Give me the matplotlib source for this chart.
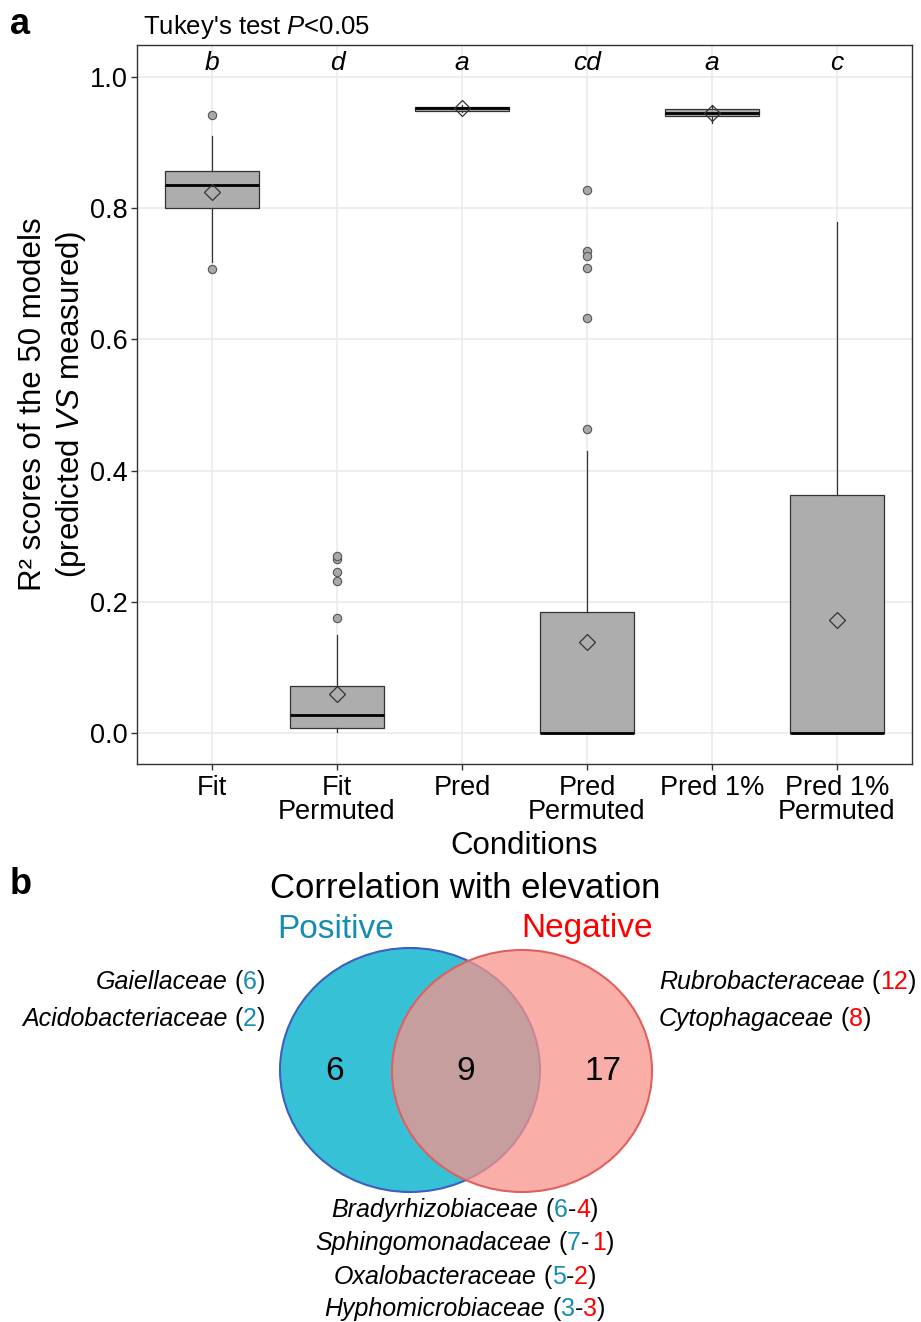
import matplotlib
matplotlib.use("Agg")
import matplotlib.pyplot as plt
from matplotlib.patches import Ellipse

plt.rcParams['font.family'] = ['Liberation Sans', 'DejaVu Sans']
plt.rcParams['mathtext.fontset'] = 'custom'
plt.rcParams['mathtext.rm'] = 'Liberation Sans'
plt.rcParams['mathtext.it'] = 'Liberation Sans:italic'

# ---- panel a data (R2 scores) ----
conditions = ['Fit', 'Fit\nPermuted', 'Pred', 'Pred\nPermuted', 'Pred 1%', 'Pred 1%\nPermuted']
q1 = [0.800, 0.007, 0.948, 0.0, 0.940, 0.0]
med = [0.835, 0.027, 0.952, 0.0, 0.945, 0.0]
q3 = [0.857, 0.072, 0.955, 0.184, 0.951, 0.363]
whis_lo = [0.718, 0.002, 0.946, 0.0, 0.930, 0.0]
whis_hi = [0.910, 0.149, 0.957, 0.430, 0.958, 0.779]
means = [0.825, 0.059, 0.952, 0.139, 0.945, 0.172]
outliers = [
    [0.942, 0.708],
    [0.175, 0.232, 0.246, 0.265, 0.270],
    [],
    [0.828, 0.735, 0.727, 0.709, 0.632, 0.463],
    [],
    [],
]
tukey_letters = ['b', 'd', 'a', 'cd', 'a', 'c']

# ---- panel b data (Venn) ----
venn_counts = [6, 9, 17]
pos_only_names = ['Gaiellaceae', 'Acidobacteriaceae']
pos_only_n = [6, 2]
neg_only_names = ['Rubrobacteraceae', 'Cytophagaceae']
neg_only_n = [12, 8]
shared_names = ['Bradyrhizobiaceae', 'Sphingomonadaceae', 'Oxalobacteraceae', 'Hyphomicrobiaceae']
shared_pos = [6, 7, 5, 3]
shared_neg = [4, 1, 2, 3]

BLUE_TXT = '#168CB2'
RED_TXT = '#FF0000'

W, H = 921, 1322
fig = plt.figure(figsize=(W / 100, H / 100), dpi=100)

# panel a axes, placed in pixel terms
left, right, top, bottom = 137, 912, 45, 764
ax = fig.add_axes([left / W, 1 - bottom / H, (right - left) / W, (bottom - top) / H])

stats = []
for i in range(len(conditions)):
    stats.append(dict(med=med[i], q1=q1[i], q3=q3[i], whislo=whis_lo[i], whishi=whis_hi[i],
                      mean=means[i], fliers=outliers[i], label=conditions[i]))
pos = list(range(1, len(conditions) + 1))
ax.bxp(stats, positions=pos, widths=0.75, patch_artist=True, showmeans=True, showcaps=False,
       boxprops=dict(facecolor='#ADADAD', edgecolor='#333333', linewidth=0.9),
       medianprops=dict(color='black', linewidth=2),
       whiskerprops=dict(color='#333333', linewidth=0.9),
       flierprops=dict(marker='o', markerfacecolor='#A8A8A8', markeredgecolor='#555555',
                       markersize=6, markeredgewidth=0.8),
       meanprops=dict(marker='D', markerfacecolor='none', markeredgecolor='#333333',
                      markersize=8.5, markeredgewidth=0.9),
       zorder=3)

for p, lab in zip(pos, tukey_letters):
    ax.text(p, 1.021, lab, ha='center', va='center', style='italic', fontsize=19)

ax.set_xlim(0.4, 6.6)
ax.set_ylim(-0.0473, 1.0488)
ax.set_yticks([0.0, 0.2, 0.4, 0.6, 0.8, 1.0])
ax.set_yticklabels(['0.0', '0.2', '0.4', '0.6', '0.8', '1.0'])
ax.set_xticks(pos)
ax.set_xticklabels(conditions, linespacing=0.9)
ax.grid(True, color='#EBEBEB', linewidth=1.2, zorder=0)
ax.set_axisbelow(True)
for sp in ax.spines.values():
    sp.set_color('#333333')
    sp.set_linewidth(1)
ax.tick_params(length=4, width=1, color='#333333', labelsize=19.5, labelcolor='black', pad=3)
ax.tick_params(axis='x', pad=4)
ax.set_xlabel('Conditions', fontsize=22.5, labelpad=4)
ax.set_ylabel('R² scores of the 50 models\n(predicted $\\it{VS}$ measured)', fontsize=22.5,
              linespacing=1.25, labelpad=1)

# overlay in reference pixel coordinates
ov = fig.add_axes([0, 0, 1, 1])
ov.set_xlim(0, W)
ov.set_ylim(H, 0)
ov.axis('off')
ov.patch.set_visible(False)

ov.text(10, 24, 'a', fontsize=26, fontweight='bold', va='center', ha='left')
ov.text(143, 27, "Tukey's test $\\it{P}$<0.05", fontsize=18.5, va='center', ha='left')
ov.text(10, 884, 'b', fontsize=26, fontweight='bold', va='center', ha='left')

# Venn
ov.add_patch(Ellipse((410, 1070), 260, 244, facecolor='#36C1D7', edgecolor='#3D5FC0', linewidth=1.5))
ov.add_patch(Ellipse((522, 1071), 260, 242, facecolor=(247 / 255, 147 / 255, 139 / 255, 0.75),
                     edgecolor='#E06060', linewidth=1.5))
ov.text(465, 888, 'Correlation with elevation', fontsize=25, ha='center', va='center')
ov.text(336, 930, 'Positive', fontsize=24, color=BLUE_TXT, ha='center', va='center')
ov.text(587, 929, 'Negative', fontsize=24, color=RED_TXT, ha='center', va='center')
for xc, n in zip([335, 466, 603], venn_counts):
    ov.text(xc, 1072, str(n), fontsize=24, ha='center', va='center')

renderer = fig.canvas.get_renderer()
FS = 18


def text_w(t):
    return t.get_window_extent(renderer).width


probe1 = ov.text(0, 0, 'xx', fontsize=FS)
probe2 = ov.text(0, 0, 'x x', fontsize=FS)
SPACE = text_w(probe2) - text_w(probe1)
probe1.remove()
probe2.remove()


def rich_line(x, y, parts, ha):
    # parts: (string, colour, style, gap in spaces before)
    items = []
    for s, c, st, gap in parts:
        t = ov.text(0, y, s, color=c, style=st, fontsize=FS, ha='left', va='center')
        items.append((t, text_w(t), gap * SPACE))
    total = sum(w + g for _, w, g in items)
    if ha == 'right':
        cur = x - total
    elif ha == 'center':
        cur = x - total / 2
    else:
        cur = x
    for t, w, g in items:
        cur += g
        t.set_x(cur)
        cur += w


for name, n, y in zip(pos_only_names, pos_only_n, [982, 1019]):
    rich_line(265, y, [(name, 'black', 'italic', 0), ('(', 'black', 'normal', 1),
                       (str(n), BLUE_TXT, 'normal', 0), (')', 'black', 'normal', 0)], 'right')

for name, n, y in zip(neg_only_names, neg_only_n, [982, 1019]):
    rich_line(659, y, [(name, 'black', 'italic', 0), ('(', 'black', 'normal', 1),
                       (str(n), RED_TXT, 'normal', 0), (')', 'black', 'normal', 0)], 'left')

for k, (name, a, b) in enumerate(zip(shared_names, shared_pos, shared_neg)):
    y = [1210, 1243, 1277, 1309][k]
    gap_after_dash = 0.5 if k == 1 else 0
    rich_line(465, y, [(name, 'black', 'italic', 0), ('(', 'black', 'normal', 1),
                       (str(a), BLUE_TXT, 'normal', 0), ('-', 'black', 'normal', 0),
                       (str(b), RED_TXT, 'normal', gap_after_dash), (')', 'black', 'normal', 0)],
              'center')

fig.savefig('out.png', dpi=100)
